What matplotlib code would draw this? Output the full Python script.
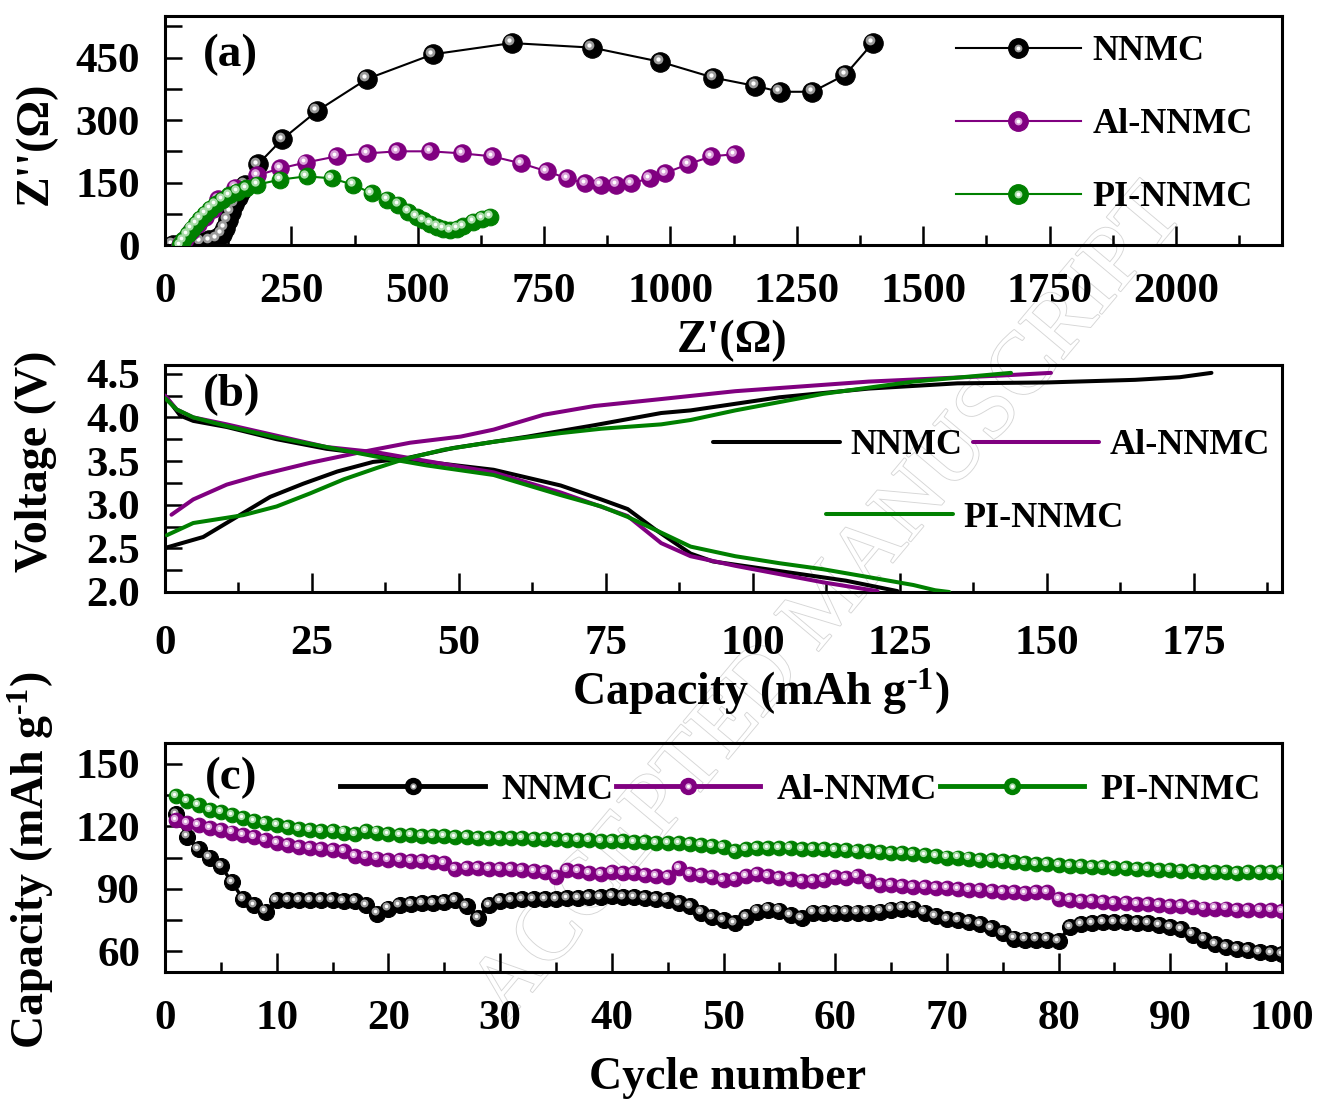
import matplotlib
matplotlib.use("Agg")
import matplotlib.pyplot as plt
import matplotlib.patheffects as pe
from matplotlib.lines import Line2D
from matplotlib.legend_handler import HandlerTuple
from matplotlib.ticker import MultipleLocator
from matplotlib.transforms import offset_copy

plt.rcParams.update({
    "font.family": ["Liberation Serif", "DejaVu Serif"],
    "font.weight": "bold",
    "axes.labelweight": "bold",
    "mathtext.fontset": "custom",
    "mathtext.rm": "Liberation Serif:bold",
    "mathtext.it": "Liberation Serif:bold",
    "mathtext.bf": "Liberation Serif:bold",
    "axes.linewidth": 2.2,
})

SAMPLES = ["NNMC", "Al-NNMC", "PI-NNMC"]
COLORS = {"NNMC": "#000000", "Al-NNMC": "#800080", "PI-NNMC": "#008000"}
LIGHTS = {"NNMC": "#9a9a9a", "Al-NNMC": "#d9a0d9", "PI-NNMC": "#a8dca8"}

# (a) Nyquist plots
nnmc_zre = [15, 30, 50, 70, 88, 102, 112, 119, 125, 131, 137, 144, 151, 158, 184, 232, 301, 400, 530,
            686, 845, 980, 1085, 1168, 1217, 1281, 1346, 1401]
nnmc_zim = [0, 3, 5, 8, 11, 16, 26, 42, 60, 80, 98, 115, 130, 145, 194, 254, 322, 399, 458,
            485, 474, 440, 402, 382, 368, 368, 409, 486]
al_zre = [30, 40, 52, 65, 80, 95, 105, 139, 182, 228, 278, 340, 400, 459, 525, 588, 647, 705, 755,
          796, 831, 862, 893, 922, 959, 990, 1035, 1081, 1127]
al_zim = [0, 15, 33, 50, 68, 86, 110, 138, 167, 184, 198, 213, 220, 225, 225, 220, 213, 196, 177,
          160, 148, 145, 145, 148, 160, 173, 194, 213, 218]
pi_zre = [30, 36, 45, 53, 62, 70, 80, 89, 100, 113, 127, 143, 160, 182, 228, 280, 330, 372, 409,
          439, 461, 481, 498, 511, 525, 538, 550, 564, 578, 590, 610, 628, 644]
pi_zim = [0, 12, 26, 39, 51, 63, 75, 87, 98, 109, 119, 128, 137, 145, 157, 165, 160, 145, 124,
          109, 97, 80, 68, 60, 51, 44, 39, 36, 39, 46, 56, 63, 68]

# (b) first charge / discharge profiles
nnmc_chg_cap = [0.3, 6.5, 12.2, 17.9, 23.5, 29.3, 35.4, 40.9, 49.1, 61.7, 73, 84.4, 89.4, 104.5,
                119.7, 134.8, 150, 165, 172.6, 178]
nnmc_chg_v = [2.51, 2.63, 2.86, 3.09, 3.24, 3.38, 3.49, 3.53, 3.65, 3.78, 3.91, 4.05, 4.08, 4.23,
              4.33, 4.39, 4.40, 4.43, 4.46, 4.51]
nnmc_dis_cap = [0, 2.6, 4.8, 10.5, 19, 27.5, 36, 44.5, 55.9, 67.3, 74.2, 78.7, 83.3, 89.4, 93.2,
                104.5, 115.8, 124.6]
nnmc_dis_v = [4.25, 4.02, 3.96, 3.89, 3.75, 3.64, 3.57, 3.49, 3.40, 3.22, 3.06, 2.95, 2.72, 2.44,
              2.35, 2.24, 2.13, 2.01]
al_chg_cap = [1.1, 4.8, 10.5, 16.2, 24.7, 33.2, 41.7, 50.3, 55.9, 64.4, 73, 84.4, 97, 119.7,
              142.4, 150.7]
al_chg_v = [2.885, 3.06, 3.23, 3.34, 3.48, 3.60, 3.71, 3.78, 3.86, 4.03, 4.13, 4.21, 4.30, 4.41,
            4.48, 4.51]
al_dis_cap = [0, 2, 4.8, 10.5, 19, 27.5, 36, 44.5, 55.9, 67.3, 78.7, 84.4, 89.4, 97, 112, 121.2]
al_dis_v = [4.25, 4.09, 4.0, 3.92, 3.79, 3.66, 3.6, 3.5, 3.37, 3.14, 2.87, 2.56, 2.41, 2.30, 2.11,
            2.01]
pi_chg_cap = [0.3, 4.8, 13.3, 19, 24.7, 30.4, 36, 40.6, 47.4, 55.9, 67.3, 74.2, 84.4, 89.4, 97,
              112, 127.3, 143.9]
pi_chg_v = [2.65, 2.79, 2.88, 2.98, 3.13, 3.29, 3.42, 3.52, 3.63, 3.72, 3.82, 3.87, 3.92, 3.97,
            4.08, 4.27, 4.41, 4.51]
pi_dis_cap = [0, 2, 4.8, 10.5, 19, 27.5, 36, 44.5, 55.9, 67.3, 74.2, 78.7, 84.4, 89.4, 97, 104.5,
              112, 119.7, 127.3, 131, 133.4]
pi_dis_v = [4.22, 4.09, 4.0, 3.9, 3.77, 3.66, 3.55, 3.45, 3.34, 3.11, 2.98, 2.86, 2.68, 2.52, 2.41,
            2.33, 2.26, 2.17, 2.08, 2.02, 2.0]

# (c) cycling performance, cycles 1..100
cycles = list(range(1, 101))
nnmc_cap = [126, 115, 109, 105, 101, 93, 85, 82, 79, 84.5,
            84.5, 84.5, 84.5, 84.5, 84.5, 84, 84, 82, 78, 80.5,
            82, 82.5, 83, 83, 83.5, 84.5, 81.5, 76, 82, 84,
            84.5, 85, 85, 85, 85, 85.5, 85.5, 86, 86, 86.5,
            86, 86, 85.5, 85, 84.5, 83, 81.5, 78.5, 76.5, 75,
            73.5, 76.5, 79, 80, 79.5, 77.5, 76, 78.5, 78.5, 78.5,
            78.5, 78.5, 78.5, 79, 80, 80.5, 80.5, 78.5, 77, 75.5,
            75, 74, 73, 71, 68.5, 66, 65.5, 65.5, 65.5, 65,
            71.5, 73, 73.5, 74, 74, 74, 73.5, 73.5, 72.5, 71.5,
            70.5, 68, 65.5, 63.5, 62, 61, 60.5, 59.5, 59, 58.5]
al_cap = [123, 121.5, 120.5, 119, 118, 117, 116, 115, 113.5, 112,
          111, 110, 109.5, 109, 108.5, 108, 105.5, 105, 104.5, 104,
          104, 103.5, 103.5, 103, 102.5, 99.5, 100, 100, 99.5, 99.5,
          99.5, 99, 98.5, 98, 95.5, 99, 98.5, 97.5, 97, 98,
          97.5, 97.5, 96.5, 96, 95.5, 100, 97, 96.5, 95.5, 94,
          94.5, 96, 97, 96, 95, 94.5, 93.5, 93.5, 94, 95.5,
          95, 96, 93.5, 92, 92, 91.5, 91, 91, 90.5, 90.5,
          90, 89.5, 89.5, 89, 88.5, 88.5, 88, 88.5, 88.5, 85,
          84.5, 84, 84, 83.5, 83, 83, 82.5, 82.5, 82, 81.5,
          81.5, 81, 80.5, 80.5, 80.5, 80, 80, 80, 80, 79.5]
pi_cap = [134.5, 132, 130, 128, 127, 125.5, 124, 122.5, 121.5, 120.5,
          119.5, 118.5, 118, 117.5, 117.5, 117, 116.5, 117.5, 117, 116.5,
          116, 116, 115.5, 115.5, 115.5, 115, 115, 114.5, 114.5, 114.5,
          114.5, 114.5, 114, 114, 114, 113.5, 113.5, 113.5, 113, 113,
          113, 112.5, 112.5, 112, 112, 112, 111.5, 111, 110.5, 110,
          108, 109, 109.5, 109.5, 109.5, 109.5, 109, 109, 109, 108.5,
          108.5, 108, 108, 107.5, 107, 107, 106.5, 106, 105.5, 105,
          105, 104.5, 104, 104, 103.5, 103, 102.5, 102, 102, 101.5,
          101, 101, 100.5, 100.5, 100, 100, 99.5, 99.5, 99, 99,
          98.5, 98.5, 98, 98, 98, 97.5, 98, 98, 98, 98]

LABEL_FS = 33
TICK_FS = 31
LEG_FS = 26
CAP_LABEL = r"Capacity (mAh g$^{\text{-1}}$)"


def shiny(ax, x, y, name, ms, lw, z):
    """Line with glossy ball markers (base disc plus offset highlight)."""
    color, light = COLORS[name], LIGHTS[name]
    ax.plot(x, y, color=color, lw=lw, marker="o", ms=ms, mfc=color, mec=color, mew=0.8, zorder=z)
    tr = offset_copy(ax.transData, fig=ax.figure, x=-0.14 * ms, y=0.14 * ms, units="points")
    ax.plot(x, y, ls="none", marker="o", ms=0.5 * ms, mfc=light, mec="none", transform=tr, zorder=z + 0.1)
    ax.plot(x, y, ls="none", marker="o", ms=0.22 * ms, mfc="white", mec="none", transform=tr, zorder=z + 0.2)


def shiny_proxy(name, ms, lw):
    color, light = COLORS[name], LIGHTS[name]
    return (Line2D([], [], color=color, lw=lw, marker="o", ms=ms, mfc=color, mec=color),
            Line2D([], [], ls="none", marker="o", ms=0.4 * ms, mfc=light, mec="none"),
            Line2D([], [], ls="none", marker="o", ms=0.2 * ms, mfc="white", mec="none"))


def style(ax, xpad):
    ax.set_facecolor("none")
    ax.tick_params(which="both", direction="in", top=False, right=False, width=1.8, labelsize=TICK_FS)
    ax.tick_params(axis="x", which="major", length=14, pad=xpad)
    ax.tick_params(axis="x", which="minor", length=7)
    ax.tick_params(axis="y", which="both", length=12, pad=18)


fig = plt.figure(figsize=(13.17, 10.99), dpi=100)
W, H = 1317.0, 1099.0
left, right = 165, 1282


def add_axes(top, bottom):
    return fig.add_axes([left / W, 1 - bottom / H, (right - left) / W, (bottom - top) / H])


ax_a = add_axes(16, 245)
ax_b = add_axes(365, 592)
ax_c = add_axes(743, 972)

# faint diagonal watermark behind the panels
fig.text(0.63, 0.45, "ACCEPTED MANUSCRIPT", rotation=50, ha="center", va="center",
         fontsize=64, weight="normal", color="white", zorder=-5,
         path_effects=[pe.withStroke(linewidth=1.3, foreground="#d6d6d6")])

# ---- (a) EIS
shiny(ax_a, nnmc_zre, nnmc_zim, "NNMC", 14, 1.5, 2)
shiny(ax_a, al_zre, al_zim, "Al-NNMC", 12.5, 1.5, 3)
shiny(ax_a, pi_zre, pi_zim, "PI-NNMC", 12, 1.5, 4)
ax_a.set_xlim(0, 2210)
ax_a.set_ylim(0, 550)
ax_a.xaxis.set_major_locator(MultipleLocator(250))
ax_a.xaxis.set_minor_locator(MultipleLocator(125))
ax_a.yaxis.set_major_locator(MultipleLocator(150))
ax_a.yaxis.set_minor_locator(MultipleLocator(75))
style(ax_a, 20)
ax_a.set_xlabel("Z'(Ω)", fontsize=LABEL_FS)
ax_a.set_ylabel("Z''(Ω)", fontsize=LABEL_FS)
ax_a.xaxis.set_label_coords(0.508, -0.325)
ax_a.yaxis.set_label_coords(-0.097, 0.445)
ax_a.text(0.034, 0.83, "(a)", transform=ax_a.transAxes, fontsize=34, va="center", ha="left")
ax_a.legend([shiny_proxy(n, 14, 1.5) for n in SAMPLES], SAMPLES,
            handler_map={tuple: HandlerTuple(ndivide=1, pad=0)}, numpoints=1,
            loc="center left", bbox_to_anchor=(0.708, 0.525), frameon=False, fontsize=LEG_FS,
            handlelength=3.46, handletextpad=0.33, labelspacing=1.1, borderpad=0, borderaxespad=0)

# ---- (b) voltage profiles
profiles = {
    "NNMC": (nnmc_chg_cap, nnmc_chg_v, nnmc_dis_cap, nnmc_dis_v),
    "Al-NNMC": (al_chg_cap, al_chg_v, al_dis_cap, al_dis_v),
    "PI-NNMC": (pi_chg_cap, pi_chg_v, pi_dis_cap, pi_dis_v),
}
for z, name in enumerate(SAMPLES):
    cc, cv, dc, dv = profiles[name]
    ax_b.plot(cc, cv, color=COLORS[name], lw=2.9, zorder=2 + z, solid_capstyle="round")
    ax_b.plot(dc, dv, color=COLORS[name], lw=2.9, zorder=2 + z, solid_capstyle="round")
ax_b.set_xlim(0, 190)
ax_b.set_ylim(2.0, 4.6)
ax_b.xaxis.set_major_locator(MultipleLocator(25))
ax_b.xaxis.set_minor_locator(MultipleLocator(12.5))
ax_b.yaxis.set_major_locator(MultipleLocator(0.5))
ax_b.yaxis.set_minor_locator(MultipleLocator(0.25))
style(ax_b, 24)
ax_b.set_xlabel(CAP_LABEL, fontsize=LABEL_FS)
ax_b.set_ylabel("Voltage (V)", fontsize=LABEL_FS)
ax_b.xaxis.set_label_coords(0.533, -0.33)
ax_b.yaxis.set_label_coords(-0.097, 0.577)
ax_b.text(0.034, 0.868, "(b)", transform=ax_b.transAxes, fontsize=34, va="center", ha="left")
line_handles = {n: Line2D([], [], color=COLORS[n], lw=2.9, solid_capstyle="round") for n in SAMPLES}
leg_b1 = ax_b.legend([line_handles["NNMC"], line_handles["Al-NNMC"]], ["NNMC", "Al-NNMC"], ncol=2,
                     loc="center left", bbox_to_anchor=(0.491, 0.645), frameon=False, fontsize=LEG_FS,
                     handlelength=3.5, handletextpad=0.3, columnspacing=0.28, borderpad=0,
                     borderaxespad=0)
ax_b.add_artist(leg_b1)
ax_b.legend([line_handles["PI-NNMC"]], ["PI-NNMC"], loc="center left", bbox_to_anchor=(0.592, 0.325),
            frameon=False, fontsize=LEG_FS, handlelength=3.5, handletextpad=0.3, borderpad=0,
            borderaxespad=0)

# ---- (c) cycling
cyc_data = {"NNMC": nnmc_cap, "Al-NNMC": al_cap, "PI-NNMC": pi_cap}
cyc_ms = {"NNMC": 11.5, "Al-NNMC": 10.5, "PI-NNMC": 10.5}
for z, name in enumerate(SAMPLES):
    shiny(ax_c, cycles, cyc_data[name], name, cyc_ms[name], 2.5, 2 + z)
ax_c.set_xlim(0, 100)
ax_c.set_ylim(50, 160)
ax_c.xaxis.set_major_locator(MultipleLocator(10))
ax_c.xaxis.set_minor_locator(MultipleLocator(5))
ax_c.yaxis.set_major_locator(MultipleLocator(30))
ax_c.yaxis.set_minor_locator(MultipleLocator(15))
style(ax_c, 20)
ax_c.set_xlabel("Cycle number", fontsize=LABEL_FS)
ax_c.set_ylabel(CAP_LABEL, fontsize=LABEL_FS)
ax_c.xaxis.set_label_coords(0.504, -0.37)
ax_c.yaxis.set_label_coords(-0.098, 0.489)
ax_c.text(0.036, 0.847, "(c)", transform=ax_c.transAxes, fontsize=34, va="center", ha="left")
ax_c.legend([shiny_proxy(n, 11.5, 3.5) for n in SAMPLES], SAMPLES,
            handler_map={tuple: HandlerTuple(ndivide=1, pad=0)}, numpoints=1, ncol=3,
            loc="center left", bbox_to_anchor=(0.157, 0.795), frameon=False, fontsize=LEG_FS,
            handlelength=4.0, handletextpad=0.45, columnspacing=0.08, borderpad=0, borderaxespad=0)

fig.savefig("out.png", dpi=100)
